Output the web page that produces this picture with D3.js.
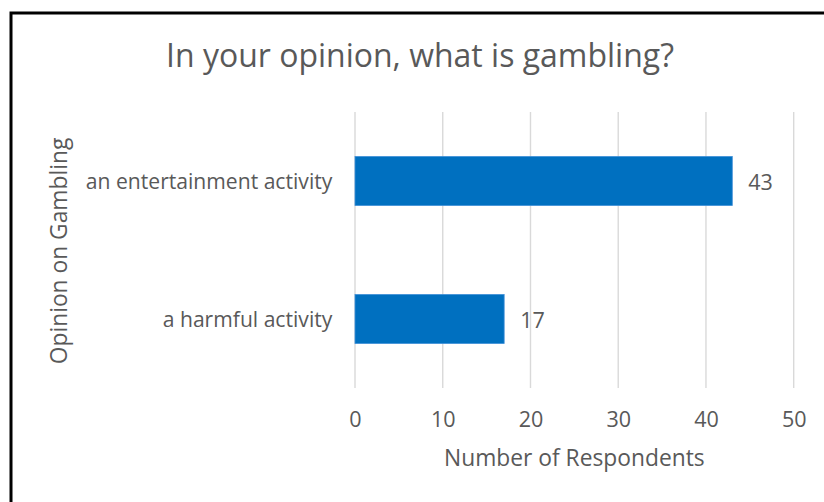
<!DOCTYPE html>
<html>
<head>
<meta charset="utf-8">
<script src="https://cdn.jsdelivr.net/npm/d3@7"></script>
<style>
  html, body { margin: 0; padding: 0; background: #ffffff; }
  svg { display: block; }
  text { font-family: "Open Sans", Lato, sans-serif; fill: #595959; }
</style>
</head>
<body>
<svg id="chart" width="824" height="502"></svg>
<script>
// Survey answers
const categories = ["an entertainment activity", "a harmful activity"];
const respondents = [43, 17];
const xTicks = [0, 10, 20, 30, 40, 50];

const titleText = "In your opinion, what is gambling?";
const xAxisTitle = "Number of Respondents";
const yAxisTitle = "Opinion on Gambling";

const FONT = "'Open Sans', Lato, sans-serif";
const svg = d3.select("#chart");
const W = 824, H = 502;
const plot = { left: 355, right: 793.7, top: 112, bottom: 388 };

// font size that makes a string span the given width
function fitSize(str, width, base) {
  const t = svg.append("text").attr("font-size", base).attr("font-family", FONT).text(str);
  const len = t.node().getComputedTextLength();
  t.remove();
  return base * width / len;
}
const titleSize = fitSize(titleText, 508, 30);
const labelSize = fitSize(categories[0], 246.7, 20);
const axisTitleSize = fitSize(xAxisTitle, 260.7, 20);
const numberSize = labelSize * 1.02;

svg.append("rect").attr("width", W).attr("height", H).attr("fill", "#ffffff");

// chart frame (left and top edges visible)
svg.append("rect")
  .attr("x", 11).attr("y", 13)
  .attr("width", W + 20).attr("height", H + 20)
  .attr("fill", "none").attr("stroke", "#000000").attr("stroke-width", 3);

const x = d3.scaleLinear().domain([0, 50]).range([plot.left, plot.right]);
const y = d3.scaleBand().domain(categories)
  .range([plot.top, plot.bottom])
  .paddingInner(0.645).paddingOuter(0.3225);

// vertical gridlines
svg.append("g").selectAll("line").data(xTicks).join("line")
  .attr("x1", d => x(d)).attr("x2", d => x(d))
  .attr("y1", plot.top).attr("y2", plot.bottom)
  .attr("stroke", "#d9d9d9").attr("stroke-width", 1.4);

// bars
const data = categories.map((c, i) => ({ c, v: respondents[i] }));
svg.append("g").selectAll("rect").data(data).join("rect")
  .attr("x", x(0))
  .attr("y", d => y(d.c))
  .attr("width", d => x(d.v) - x(0))
  .attr("height", y.bandwidth())
  .attr("fill", "#0070c0")
  .attr("stroke", "#3f8fd8").attr("stroke-width", 0.8);

// value labels
svg.append("g").selectAll("text").data(data).join("text")
  .attr("x", d => x(d.v) + 16)
  .attr("y", d => y(d.c) + y.bandwidth() / 2 + 8.5)
  .attr("font-size", numberSize)
  .text(d => d.v);

// x axis
const xAxis = svg.append("g")
  .attr("transform", `translate(0,${plot.bottom})`)
  .call(d3.axisBottom(x).tickValues(xTicks).tickSize(0).tickFormat(d3.format("d")));
xAxis.select(".domain").remove();
xAxis.selectAll("text")
  .attr("y", 39.3).attr("dy", null)
  .attr("font-size", numberSize).attr("fill", "#595959").attr("font-family", FONT);

// y axis
const yAxis = svg.append("g")
  .attr("transform", `translate(${plot.left},0)`)
  .call(d3.axisLeft(y).tickSize(0).tickPadding(22.7));
yAxis.select(".domain").remove();
yAxis.selectAll("text")
  .attr("dy", null).attr("y", 8)
  .attr("font-size", labelSize).attr("fill", "#595959").attr("font-family", FONT);

// title
svg.append("text")
  .attr("x", 420).attr("y", 67)
  .attr("text-anchor", "middle")
  .attr("font-size", titleSize)
  .text(titleText);

// axis titles
svg.append("text")
  .attr("x", (plot.left + plot.right) / 2).attr("y", 466)
  .attr("text-anchor", "middle")
  .attr("font-size", axisTitleSize)
  .text(xAxisTitle);

svg.append("text")
  .attr("transform", `translate(67,${(plot.top + plot.bottom) / 2 + 1}) rotate(-90)`)
  .attr("text-anchor", "middle")
  .attr("font-size", axisTitleSize)
  .text(yAxisTitle);
</script>
</body>
</html>
